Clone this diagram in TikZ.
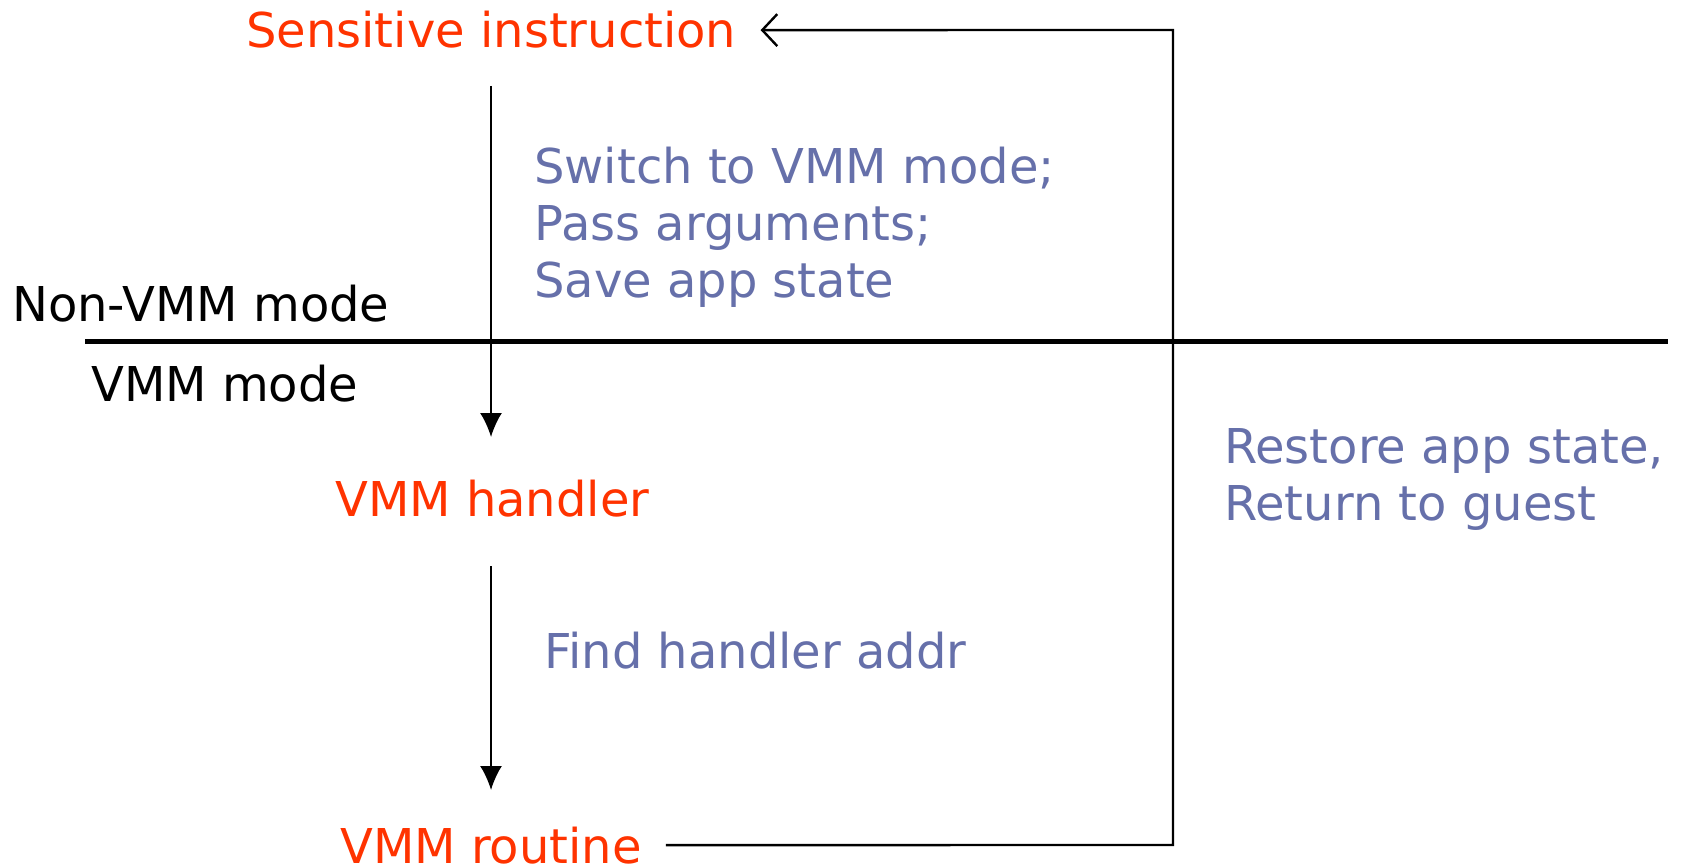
\documentclass[tikz,border=0pt]{standalone}
\usepackage{fontspec}
\setmainfont{DejaVu Sans}
\usetikzlibrary{arrows.meta}
\definecolor{hot}{RGB}{255,51,0}
\definecolor{note}{RGB}{102,112,170}
\begin{document}
\begin{tikzpicture}[x=1pt,y=-1pt,
  lbl/.style={anchor=base west,inner sep=0pt,font=\fontsize{48}{57}\selectfont},
  stage/.style={lbl,text=hot},
  action/.style={lbl,text=note,align=left},
  modetext/.style={lbl,text=black},
  flow/.style={line width=2.2pt,-{Latex[length=24pt,width=22pt]}},
  back/.style={line width=2.4pt}]
\useasboundingbox (0,0) rectangle (1681,866);

% mode boundary
\coordinate (bl) at (85,342);
\coordinate (br) at (1668,342);
\draw[line width=5pt] (bl) -- (br);
\node[modetext] (nonvmm) at (12,322) {Non-VMM mode};
\node[modetext] (vmm) at (91,401) {VMM mode};

% stages
\node[stage] (sens) at (246,48) {Sensitive instruction};
\node[stage] (handler) at (335,516) {VMM handler};
\node[stage] (routine) at (340,863) {VMM routine};

% actions (base anchor sits on the last line)
\node[action] (sw) at (534,298) {Switch to VMM mode;\\Pass arguments;\\Save app state};
\node[action] (find) at (544,668) {Find handler addr};
\node[action] (rest) at (1224,520) {Restore app state,\\Return to guest};

% downward flow
\coordinate (d1a) at (491,86);
\coordinate (d1b) at (491,437);
\coordinate (d2a) at (491,566);
\coordinate (d2b) at (491,790);
\draw[flow] (d1a) -- (d1b);
\draw[flow] (d2a) -- (d2b);

% return path
\coordinate (cb) at (1173,845);
\coordinate (ct) at (1173,30);
\draw[back,-{Straight Barb[length=15pt,width=32pt,line width=2.4pt]},shorten <=24pt,shorten >=24pt]
  (routine.east) -- (cb) -- (ct) -- (sens.east);
\end{tikzpicture}
\end{document}
